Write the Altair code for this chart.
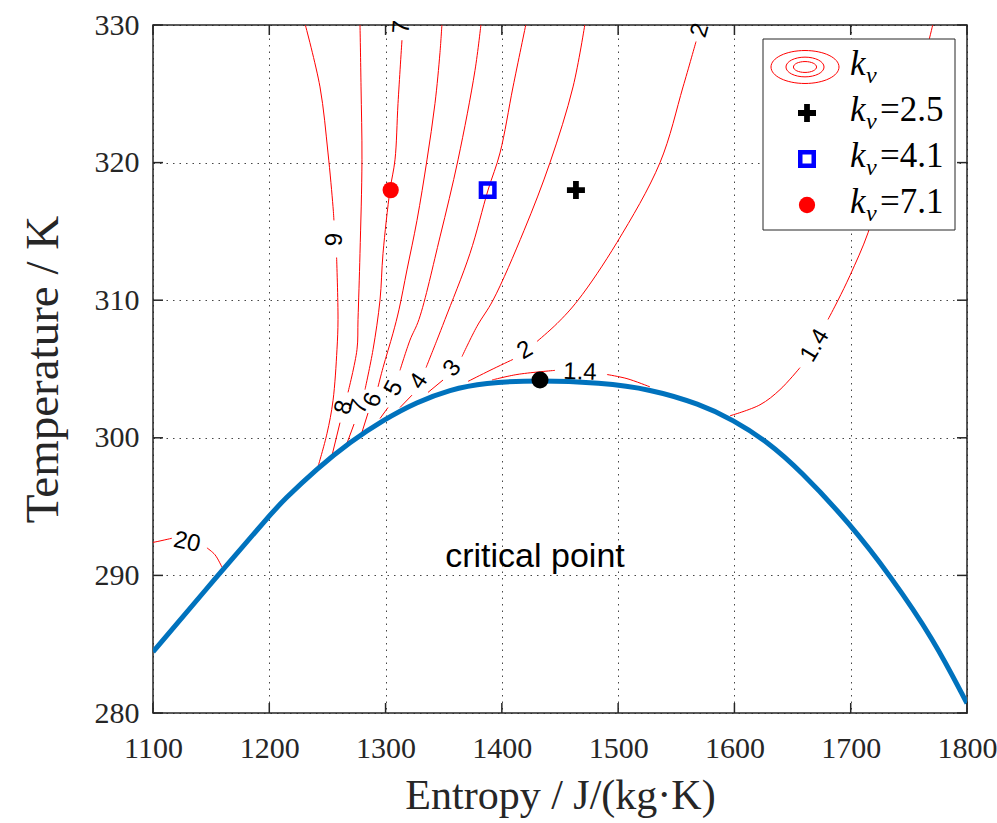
import altair as alt
import pandas as pd

# ---------------------------------------------------------------- data
# saturation dome (entropy in J/(kg K), temperature in K)
dome_s = [1100, 1154.8, 1200.6, 1212, 1240.8, 1269.4, 1298.1, 1326.8, 1355.4, 1384.0,
          1432.8, 1484.4, 1527.4, 1570.4, 1599.0, 1627.8, 1656.4, 1699.4, 1733.8, 1771.0, 1800]
dome_T = [284.45, 289.9, 294.4, 295.45, 297.75, 299.7, 301.3, 302.6, 303.5, 304.0,
          304.2, 304.0, 303.55, 302.45, 301.3, 299.75, 297.65, 293.75, 290.0, 285.4, 280.7]

critical_s = [1432.8]
critical_T = [304.2]

# iso-k_v contour lines, each split where its label sits
k20_s = [[1095, 1100, 1116.3], [1146.4, 1153.3, 1159.3]]
k20_T = [[292.35, 292.4, 292.7], [292.0, 291.5, 290.6]]
k9_s = [[1230.7, 1243.6, 1250.5, 1254.8, 1255.6], [1257.9, 1259.1, 1258.2, 1254.8, 1249.6, 1241.9]]
k9_T = [[330.1, 325.5, 320.7, 316.8, 315.8], [313.1, 308.6, 306.4, 302.7, 300.3, 297.9]]
k8_s = [[1278.0, 1278.9, 1279.7, 1278.0, 1276.3, 1275.4, 1267.7], [1260.8, 1253.9]]
k8_T = [[330.1, 325.5, 320.2, 313.4, 308.6, 306.4, 303.3], [301.1, 298.7]]
k7_s = [[1314.1, 1310.7, 1308.1, 1303.8, 1297.8, 1295.2, 1289.2, 1282.3], [1272.9, 1266.8]]
k7_T = [[328.9, 324.3, 320.2, 318.0, 313.4, 310.0, 306.4, 303.5], [301.0, 299.6]]
k6_s = [[1348.5, 1346.8, 1342.5, 1335.6, 1327.0, 1318.4, 1311.5, 1306.4, 1297.8, 1293.5], [1284.9, 1279.7]]
k6_T = [[330.1, 328.0, 324.3, 320.2, 315.8, 312.2, 309.3, 307.6, 305.1, 303.7], [301.8, 300.4]]
k5_s = [[1382.1, 1376.9, 1362.3, 1346.8, 1328.7, 1321.0, 1312.4], [1302.1, 1295.2]]
k5_T = [[330.1, 326.7, 320.2, 314.6, 308.6, 307.1, 304.9], [302.2, 301.4]]
k4_s = [[1420.8, 1409.6, 1398.4, 1388.1, 1372.6, 1351.1, 1344.2, 1334.8], [1322.7, 1312.4]]
k4_T = [[330.1, 325.5, 320.7, 318.0, 313.4, 308.6, 307.1, 305.1], [303.1, 302.2]]
k3_s = [[1471.5, 1461.2, 1441.4, 1419.0, 1392.4, 1378.6, 1365.7], [1349.4, 1336.5]]
k3_T = [[330.1, 325.5, 320.0, 315.05, 310.0, 308.1, 305.9], [304.2, 303.3]]
k2_s = [[1567.0, 1555.8, 1536.0, 1499.0, 1465.5, 1447.4, 1430.2], [1409.6, 1389.8, 1370.9]]
k2_T = [[328.8, 325.5, 320.0, 314.2, 310.0, 308.3, 307.0], [305.7, 304.9, 304.1]]
k14_vap_s = [[1770.8, 1757.0, 1742.4, 1727.8, 1714.9, 1699.4, 1689.1, 1680.5], [1656.4, 1639.2, 1622.0, 1596.2]]
k14_vap_T = [[330.1, 325.5, 321.6, 318.7, 314.9, 311.8, 310.0, 308.6], [305.1, 303.5, 302.4, 301.6]]
k14_top_s = [[1391.5, 1413.0, 1445.7], [1490.4, 1507.6, 1527.4]]
k14_top_T = [[304.2, 304.6, 304.9], [304.6, 304.3, 303.7]]

# inline contour labels
label_text = ["20", "9", "8", "7", "6", "5", "4", "3", "2", "1.4", "7", "2", "1.4"]
label_s = [1129.2, 1256.5, 1264.3, 1277.6, 1289.2, 1307.2, 1328.7, 1357.5, 1419.9, 1467.2, 1314.1, 1570.4, 1669.3]
label_T = [292.4, 314.4, 302.2, 302.25, 302.75, 303.6, 304.1, 305.05, 306.35, 304.75, 329.85, 329.6, 306.7]
label_angle = [12, 270, 285, 288, 291, 298, 304, 310, 330, 2, 274, 286, 301]

# operating points
point_kv = ["2.5", "4.1", "7.1"]
point_s = [1463.7, 1387.8, 1304.4]
point_T = [318.0, 318.0, 318.0]

x_ticks = [1100, 1200, 1300, 1400, 1500, 1600, 1700, 1800]
y_ticks = [280, 290, 300, 310, 320, 330]

# ---------------------------------------------------------------- frames
rows = []
for name, S, T in [("20", k20_s, k20_T), ("9", k9_s, k9_T), ("8", k8_s, k8_T), ("7", k7_s, k7_T),
                   ("6", k6_s, k6_T), ("5", k5_s, k5_T), ("4", k4_s, k4_T), ("3", k3_s, k3_T),
                   ("2", k2_s, k2_T), ("1.4v", k14_vap_s, k14_vap_T), ("1.4t", k14_top_s, k14_top_T)]:
    for j, (ss, tt) in enumerate(zip(S, T)):
        for i, (a, b) in enumerate(zip(ss, tt)):
            rows.append({"seg": f"{name}-{j}", "i": i, "s": a, "T": b})
contour_df = pd.DataFrame(rows)
dome_df = pd.DataFrame({"s": dome_s, "T": dome_T, "i": range(len(dome_s))})
label_df = pd.DataFrame({"text": label_text, "s": label_s, "T": label_T, "angle": label_angle})
crit_df = pd.DataFrame({"s": critical_s, "T": critical_T})
pts_df = pd.DataFrame({"kv": point_kv, "s": point_s, "T": point_T})

W, H = 814, 688
INK = "#262626"
SERIF = "Liberation Serif"
SANS = "Liberation Sans"

xs = alt.Scale(domain=[1100, 1800], nice=False, zero=False)
ys = alt.Scale(domain=[280, 330], nice=False, zero=False)
X = alt.X("s:Q", scale=xs, axis=alt.Axis(
    values=x_ticks, format="d", title="Entropy / J/(kg·K)", labelFlush=False, labelPadding=20,
    titlePadding=12, titleFontSize=42, ticks=False, domain=False))
Y = alt.Y("T:Q", scale=ys, axis=alt.Axis(
    values=y_ticks, format="d", title="Temperature / K", labelFlush=False, labelPadding=14,
    titlePadding=27, titleFontSize=47, ticks=False, domain=False))

contours = alt.Chart(contour_df).mark_line(
    color="#ff0000", strokeWidth=1, clip=True, interpolate="catmull-rom"
).encode(x=X, y=Y, detail="seg:N", order="i:Q")

dome = alt.Chart(dome_df).mark_line(
    color="#0072bd", strokeWidth=5, clip=True, interpolate="basis"
).encode(x="s:Q", y="T:Q", order="i:Q")

crit = alt.Chart(crit_df).mark_point(
    shape="circle", filled=True, color="black", size=290, opacity=1
).encode(x="s:Q", y="T:Q")

labels = alt.Chart(label_df).mark_text(
    font=SANS, fontSize=24, color="black", align="center", baseline="middle"
).encode(x="s:Q", y="T:Q", text="text:N", angle=alt.Angle("angle:Q", scale=None))

crit_text = alt.Chart(pd.DataFrame({"s": [1428.5], "T": [290.63], "t": ["critical point"]})).mark_text(
    font=SANS, fontSize=34, color="black", align="center", baseline="alphabetic"
).encode(x="s:Q", y="T:Q", text="t:N")

PLUS = "M-1,-0.32H1V0.32H-1Z M-0.32,-1H0.32V1H-0.32Z"
ELLIPSES = ("M-1,0A1,0.485,0,1,1,1,0A1,0.485,0,1,1,-1,0Z "
            "M-0.56,0A0.56,0.29,0,1,1,0.56,0A0.56,0.29,0,1,1,-0.56,0Z "
            "M-0.34,0A0.34,0.16,0,1,1,0.34,0A0.34,0.16,0,1,1,-0.34,0Z")

plus_pt = alt.Chart(pts_df).transform_filter(alt.datum.kv == "2.5").mark_point(
    shape=PLUS, filled=True, color="black", size=324, opacity=1).encode(x="s:Q", y="T:Q")
square_pt = alt.Chart(pts_df).transform_filter(alt.datum.kv == "4.1").mark_point(
    shape="square", filled=False, color="#0000ff", strokeWidth=4.5, size=182, opacity=1).encode(x="s:Q", y="T:Q")
dot_pt = alt.Chart(pts_df).transform_filter(alt.datum.kv == "7.1").mark_point(
    shape="circle", filled=True, color="#ff0000", size=265, opacity=1).encode(x="s:Q", y="T:Q")

# inward ticks on all four sides of the box
xt = pd.DataFrame({"v": x_ticks})
yt = pd.DataFrame({"v": y_ticks})
TL = 10
tick_layers = [
    alt.Chart(xt).mark_rule(color=INK, strokeWidth=1.5).encode(x=alt.X("v:Q", scale=xs), y=alt.value(H), y2=alt.value(H - TL)),
    alt.Chart(xt).mark_rule(color=INK, strokeWidth=1.5).encode(x=alt.X("v:Q", scale=xs), y=alt.value(0), y2=alt.value(TL)),
    alt.Chart(yt).mark_rule(color=INK, strokeWidth=1.5).encode(y=alt.Y("v:Q", scale=ys), x=alt.value(0), x2=alt.value(TL)),
    alt.Chart(yt).mark_rule(color=INK, strokeWidth=1.5).encode(y=alt.Y("v:Q", scale=ys), x=alt.value(W), x2=alt.value(W - TL)),
]

# legend box (plot-pixel layout)
one = pd.DataFrame({"a": [0]})
LX0, LX1, LY0, LY1 = 610, 802, 14, 205
legend_box = alt.Chart(one).mark_rect(fill="white", stroke=INK, strokeWidth=1).encode(
    x=alt.value(LX0), x2=alt.value(LX1), y=alt.value(LY0), y2=alt.value(LY1))
ROW0, ROWH, MX, TX = 42, 46, 654, 697
legend_icon = alt.Chart(one).mark_point(
    shape=ELLIPSES, filled=False, color="#ff0000", strokeWidth=1, size=4624, opacity=1
).encode(x=alt.value(MX - 2), y=alt.value(ROW0))
leg_plus = alt.Chart(one).mark_point(shape=PLUS, filled=True, color="black", size=324, opacity=1).encode(
    x=alt.value(MX), y=alt.value(ROW0 + ROWH))
leg_square = alt.Chart(one).mark_point(shape="square", filled=False, color="#0000ff", strokeWidth=4.5,
                                       size=182, opacity=1).encode(x=alt.value(MX), y=alt.value(ROW0 + 2 * ROWH))
leg_dot = alt.Chart(one).mark_point(shape="circle", filled=True, color="#ff0000", size=265, opacity=1).encode(
    x=alt.value(MX), y=alt.value(ROW0 + 3 * ROWH))

leg_rows = pd.DataFrame({"r": [0, 1, 2, 3], "val": ["", "=" + point_kv[0], "=" + point_kv[1], "=" + point_kv[2]]})
leg_rows["base"] = ROW0 + 8 + ROWH * leg_rows["r"]
leg_k = alt.Chart(leg_rows).mark_text(font=SERIF, fontSize=35, fontStyle="italic", color="black",
                                      align="left", baseline="alphabetic").encode(
    x=alt.value(TX), y=alt.Y("base:Q", scale=None), text=alt.value("k"))
leg_v = alt.Chart(leg_rows).transform_calculate(b2="datum.base + 8").mark_text(
    font=SERIF, fontSize=24, fontStyle="italic", color="black", align="left", baseline="alphabetic").encode(
    x=alt.value(TX + 16), y=alt.Y("b2:Q", scale=None), text=alt.value("v"))
leg_val = alt.Chart(leg_rows).mark_text(font=SERIF, fontSize=35, color="black",
                                        align="left", baseline="alphabetic").encode(
    x=alt.value(TX + 30), y=alt.Y("base:Q", scale=None), text="val:N")

chart = alt.layer(
    contours, dome, labels, crit, crit_text, plus_pt, square_pt, dot_pt,
    *tick_layers, legend_box, legend_icon, leg_plus, leg_square, leg_dot, leg_k, leg_v, leg_val
).properties(
    width=W, height=H,
    padding={"left": 153, "top": 25, "right": 30, "bottom": 110},
    autosize=alt.AutoSizeParams(type="none"),
    background="white",
).configure_view(
    stroke=INK, strokeWidth=1.5
).configure_axis(
    labelFont=SERIF, labelFontSize=30, labelColor=INK,
    titleFont=SERIF, titleFontWeight="normal", titleColor=INK,
    grid=True, gridColor=INK, gridDash=[1.5, 5], gridWidth=1, gridOpacity=0.85,
)

chart.save("out.html", embed_options={"renderer": "svg", "actions": False})
